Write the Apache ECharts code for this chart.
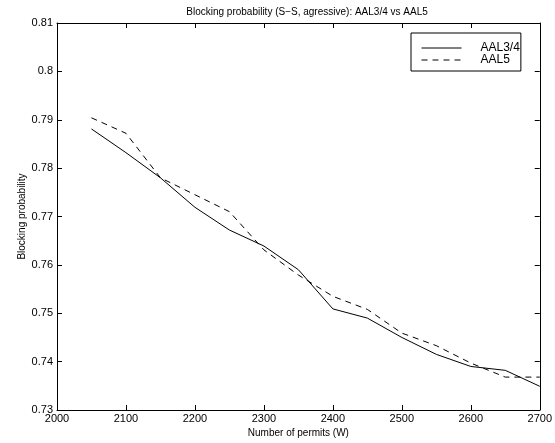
<!DOCTYPE html>
<html>
<head>
<meta charset="utf-8">
<script src="https://cdn.jsdelivr.net/npm/echarts@6/dist/echarts.min.js"></script>
<style>
html,body{margin:0;padding:0;background:#fff;}
#c{width:555px;height:443px;}
</style>
</head>
<body>
<div id="c"></div>
<script>
const permits = [2050,2100,2150,2200,2250,2300,2350,2400,2450,2500,2550,2600,2650,2700];
const aal34 = [0.7881,0.7832,0.7780,0.7719,0.7672,0.7639,0.7590,0.7509,0.7490,0.7450,0.7415,0.7390,0.7382,0.7349];
const aal5  = [0.7904,0.7872,0.7780,0.7745,0.7710,0.7631,0.7579,0.7535,0.7508,0.7459,0.7433,0.7397,0.7368,0.7368];
const xTicks = {min:2000,max:2700,interval:100};
const yTicks = {min:0.73,max:0.81,interval:0.01};

const font = 'Liberation Sans, Arial, Helvetica, sans-serif';
const chart = echarts.init(document.getElementById('c'));
const axisBase = {
  axisLine:{show:true,onZero:false,lineStyle:{color:'#000',width:1}},
  axisTick:{show:true,inside:true,length:5,lineStyle:{color:'#000'}},
  splitLine:{show:false}
};
chart.setOption({
  animation:false,
  backgroundColor:'#fff',
  textStyle:{fontFamily:font},
  title:{text:'Blocking probability (S\u2212S, agressive): AAL3/4 vs AAL5',left:302,top:2,textAlign:'center',
    textStyle:{fontSize:10,fontWeight:'normal',color:'#000',fontFamily:font}},
  legend:{orient:'vertical',left:411,top:33,padding:[9,1,5,10],itemWidth:40,itemHeight:11,itemGap:0,
    borderColor:'#000',borderWidth:1,backgroundColor:'#fff',
    itemStyle:{opacity:0},
    lineStyle:{width:1,color:'#000',inactiveWidth:1},
    textStyle:{fontSize:12,lineHeight:11,color:'#000',fontFamily:font,padding:[0,0,0,14]},
    data:['AAL3/4','AAL5']},
  grid:{left:57,right:8,top:23,bottom:33,show:false},
  xAxis:[
    Object.assign({type:'value',position:'bottom',min:xTicks.min,max:xTicks.max,interval:xTicks.interval,
      name:'Number of permits (W)',nameLocation:'middle',nameGap:18,nameMoveOverlap:false,
      nameTextStyle:{fontSize:10,color:'#000',fontFamily:font},
      axisLabel:{fontSize:11,color:'#000',margin:3,fontFamily:font,formatter:v=>String(v)}},axisBase),
    Object.assign({type:'value',position:'top',min:xTicks.min,max:xTicks.max,interval:xTicks.interval,
      axisLabel:{show:false}},axisBase)
  ],
  yAxis:[
    Object.assign({type:'value',position:'left',min:yTicks.min,max:yTicks.max,interval:yTicks.interval,
      name:'Blocking probability',nameLocation:'middle',nameGap:30,nameMoveOverlap:false,
      nameTextStyle:{fontSize:10,color:'#000',fontFamily:font},
      axisLabel:{fontSize:11,color:'#000',margin:4,fontFamily:font}},axisBase),
    Object.assign({type:'value',position:'right',min:yTicks.min,max:yTicks.max,interval:yTicks.interval,
      axisLabel:{show:false}},axisBase)
  ],
  series:[
    {name:'AAL3/4',type:'line',symbol:'none',data:permits.map((x,i)=>[x,aal34[i]]),
      lineStyle:{color:'#000',width:1,type:'solid'},itemStyle:{color:'#000'}},
    {name:'AAL5',type:'line',symbol:'none',data:permits.map((x,i)=>[x,aal5[i]]),
      lineStyle:{color:'#000',width:1,type:[6,5]},itemStyle:{color:'#000'}}
  ]
});
</script>
</body>
</html>
